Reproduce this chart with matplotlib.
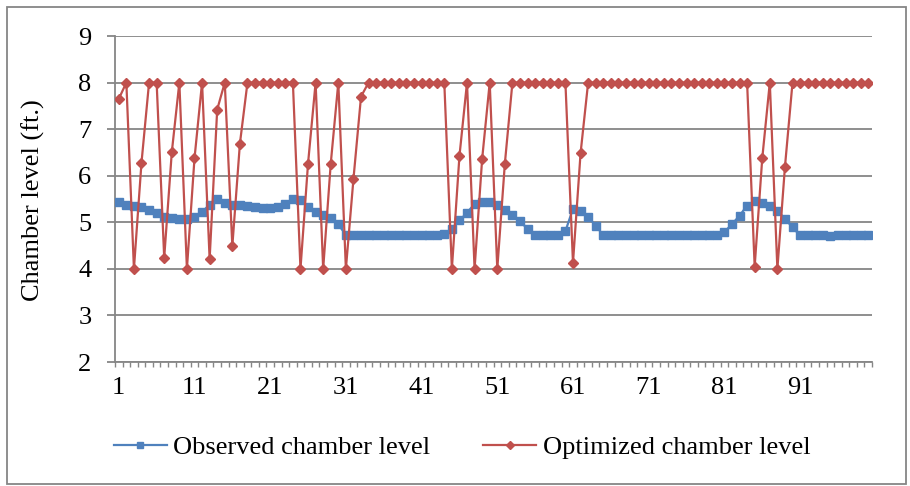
import matplotlib.pyplot as plt
from matplotlib.patches import Rectangle

# time steps 1..100
steps = list(range(1, 101))

observed = [
    5.44, 5.38, 5.36, 5.33, 5.26, 5.19, 5.12, 5.09, 5.08, 5.08,
    5.12, 5.22, 5.38, 5.50, 5.41, 5.38, 5.37, 5.35, 5.33, 5.31,
    5.31, 5.33, 5.39, 5.49, 5.47, 5.33, 5.22, 5.15, 5.09, 4.96,
    4.72, 4.72, 4.72, 4.72, 4.72, 4.72, 4.72, 4.72, 4.72, 4.72,
    4.72, 4.72, 4.73, 4.75, 4.86, 5.04, 5.20, 5.40, 5.44, 5.43,
    5.37, 5.27, 5.15, 5.02, 4.86, 4.72, 4.72, 4.72, 4.73, 4.81,
    5.29, 5.24, 5.11, 4.93, 4.72, 4.72, 4.72, 4.72, 4.72, 4.72,
    4.72, 4.72, 4.72, 4.72, 4.72, 4.72, 4.72, 4.72, 4.72, 4.72,
    4.79, 4.96, 5.14, 5.36, 5.46, 5.42, 5.34, 5.24, 5.08, 4.89,
    4.72, 4.72, 4.72, 4.72, 4.71, 4.72, 4.72, 4.72, 4.72, 4.72,
]

optimized = [
    7.65, 8.00, 4.00, 6.28, 8.00, 8.00, 4.24, 6.50, 8.00, 4.00,
    6.37, 8.00, 4.21, 7.42, 8.00, 4.49, 6.69, 8.00, 8.00, 8.00,
    8.00, 8.00, 8.00, 8.00, 4.00, 6.26, 8.00, 4.00, 6.26, 8.00,
    4.00, 5.93, 7.70, 8.00, 8.00, 8.00, 8.00, 8.00, 8.00, 8.00,
    8.00, 8.00, 8.00, 8.00, 4.00, 6.42, 8.00, 4.00, 6.36, 8.00,
    4.00, 6.26, 8.00, 8.00, 8.00, 8.00, 8.00, 8.00, 8.00, 8.00,
    4.13, 6.48, 8.00, 8.00, 8.00, 8.00, 8.00, 8.00, 8.00, 8.00,
    8.00, 8.00, 8.00, 8.00, 8.00, 8.00, 8.00, 8.00, 8.00, 8.00,
    8.00, 8.00, 8.00, 8.00, 4.05, 6.37, 8.00, 4.00, 6.19, 8.00,
    8.00, 8.00, 8.00, 8.00, 8.00, 8.00, 8.00, 8.00, 8.00, 8.00,
]

xtick_labels = [1, 11, 21, 31, 41, 51, 61, 71, 81, 91]
yticks = [2, 3, 4, 5, 6, 7, 8, 9]

plt.rcParams['font.family'] = ['Liberation Serif', 'DejaVu Serif']

grey = '#868686'
blue = '#4F81BD'
red = '#C0504D'
fs = 19

fig = plt.figure(figsize=(9.1, 4.86), dpi=100)
ax = fig.add_axes([115 / 910, 1 - 362 / 486, 757 / 910, 326 / 486])

ax.plot(steps, observed, color=blue, lw=1.6, marker='s', ms=6.2,
        mec=blue, mfc=blue, label='Observed chamber level', zorder=3)
ax.plot(steps, optimized, color=red, lw=1.6, marker='D', ms=5.2,
        mec=red, mfc=red, label='Optimized chamber level', zorder=4)

ax.set_xlim(0.5, 100.5)
ax.set_ylim(2, 9)
ax.set_yticks(yticks)
ax.set_xticks(xtick_labels)
ax.set_xticklabels([str(v) for v in xtick_labels])
ax.set_xticks([i + 0.5 for i in range(0, 101)], minor=True)

ax.grid(axis='y', color=grey, lw=1.3)
ax.set_axisbelow(True)
for side in ['top', 'right']:
    ax.spines[side].set_visible(False)
for side in ['left', 'bottom']:
    ax.spines[side].set_color(grey)
    ax.spines[side].set_linewidth(1.3)

ax.tick_params(axis='y', length=6, width=1.3, color=grey, pad=11, labelsize=fs)
ax.tick_params(axis='x', which='major', length=0, pad=11, labelsize=fs)
ax.tick_params(axis='x', which='minor', length=3.5, width=1, color=grey)

fig.text(33 / 910, 1 - 200 / 486, 'Chamber level (ft.)', rotation=90,
         ha='center', va='center', fontsize=fs)

fig.legend(loc='center', bbox_to_anchor=(462 / 910, 1 - 447 / 486), ncol=2,
           frameon=False, fontsize=fs, handlelength=2.0, handletextpad=0.25,
           columnspacing=2.0, markerscale=0.8)

fig.patches.append(Rectangle((7 / 910, 2 / 486), 899 / 910, 477 / 486,
                             transform=fig.transFigure, fill=False,
                             edgecolor=grey, lw=1.3))

fig.savefig('out.png', dpi=100)
